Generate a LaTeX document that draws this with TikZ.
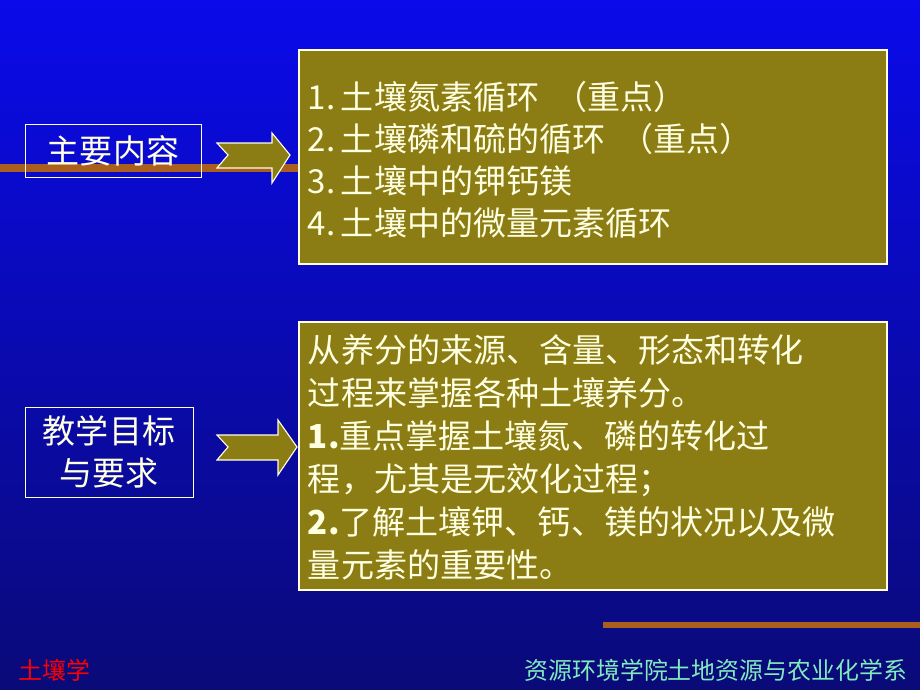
\documentclass[tikz,border=0pt]{standalone}
\usepackage{fontspec}
\setmainfont{Noto Sans CJK SC}
\usetikzlibrary{positioning}
\definecolor{olivebox}{RGB}{140,124,20}
\definecolor{topblue}{RGB}{10,10,235}
\definecolor{botblue}{RGB}{10,10,120}
\definecolor{creamtext}{RGB}{255,255,225}
\definecolor{greentext}{RGB}{130,235,190}
\definecolor{stripe}{RGB}{170,95,30}
\tikzset{
  contentbox/.style={draw=creamtext, fill=olivebox, line width=0.8pt},
  labelbox/.style={draw=creamtext, line width=0.6pt, text=creamtext, font=\fontsize{23.5}{30}\selectfont, align=center},
  bodytext/.style={text=creamtext, font=\fontsize{23.5}{30}\selectfont, anchor=north west, align=left},
  pointer/.style={draw=creamtext, fill=olivebox, line width=0.8pt}
}
\begin{document}
\begin{tikzpicture}[x=0.025cm, y=-0.025cm]
\useasboundingbox (0,0) rectangle (920,690);
\shade[top color=topblue, bottom color=botblue] (0,0) rectangle (920,690);
% stripes
\fill[stripe] (0,164) rectangle (300,172);
\fill[stripe] (603,622) rectangle (920,628);
% content boxes
\draw[contentbox] (299,50) rectangle (887,264);
\draw[contentbox] (299,322) rectangle (887,590);
\node[bodytext] (list) at (303,76) {1.\,土壤氮素循环\ \ （重点）\\2.\,土壤磷和硫的循环\ \ （重点）\\3.\,土壤中的钾钙镁\\4.\,土壤中的微量元素循环};
\node[bodytext, font=\fontsize{23.5}{30.5}\selectfont] (goal) at (303,330) {从养分的来源、含量、形态和转化\\过程来掌握各种土壤养分。\\\textbf{1.}重点掌握土壤氮、磷的转化过\\程，尤其是无效化过程；\\\textbf{2.}了解土壤钾、钙、镁的状况以及微\\量元素的重要性。};
% labels
\node[labelbox, minimum width=176*0.025cm, minimum height=53*0.025cm] (main) at (113,151) {主要内容};
\node[labelbox, minimum width=168*0.025cm, minimum height=90*0.025cm] (aim) at (109,452) {教学目标\\与要求};
% arrows
\draw[pointer] (217,143) -- (272,143) -- (272,133) -- (290,155) -- (272,183) -- (272,168) -- (217,168) -- (228,155) -- cycle;
\draw[pointer] (217,435) -- (278,435) -- (278,420) -- (297,447) -- (278,475) -- (278,460) -- (217,460) -- (228,447) -- cycle;
% footer
\node[text=red, font=\fontsize{17}{18}\selectfont, anchor=west] (course) at (14,670) {土壤学};
\node[text=greentext, font=\fontsize{17}{18}\selectfont, anchor=east] (dept) at (912,670) {资源环境学院土地资源与农业化学系};
\end{tikzpicture}
\end{document}
